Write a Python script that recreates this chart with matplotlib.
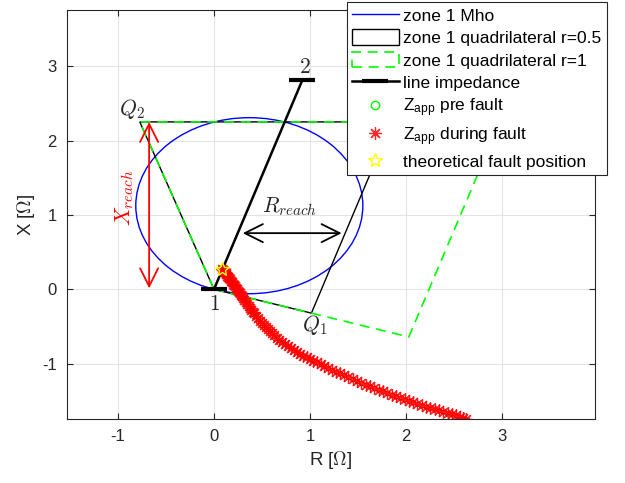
import matplotlib
matplotlib.use("Agg")
import matplotlib.pyplot as plt
from matplotlib.patches import Circle, Polygon
from matplotlib.lines import Line2D

plt.rcParams['font.family'] = ['Liberation Sans', 'DejaVu Sans']
plt.rcParams['mathtext.fontset'] = 'custom'
plt.rcParams['mathtext.rm'] = 'Liberation Sans'
plt.rcParams['mathtext.it'] = 'Liberation Sans:italic'
plt.rcParams['axes.unicode_minus'] = False

# line impedance (R, X) from relay 1 to bus 2
line_r = [0.0, 0.92]
line_x = [0.0, 2.81]

# zone 1 mho circle
mho_center = (0.368, 1.124)
mho_radius = 1.183

# zone 1 quadrilaterals (origin, Q1, top right, Q2)
quad05_r = [0.0, 1.015, 1.856, -0.773]
quad05_x = [0.0, -0.32, 2.25, 2.25]
quad1_r = [0.0, 2.03, 2.98, -0.773]
quad1_x = [0.0, -0.64, 2.25, 2.25]

# apparent impedance
pre_r = [0.087]
pre_x = [0.27]
fault_r = [0.087, 0.095, 0.10, 0.11, 0.12, 0.13, 0.14, 0.15, 0.16, 0.17, 0.18, 0.19,
           0.20, 0.21, 0.22, 0.23, 0.24, 0.25, 0.26, 0.27, 0.28, 0.29, 0.30, 0.315,
           0.33, 0.345, 0.36, 0.375, 0.39, 0.405, 0.42, 0.44, 0.46, 0.48, 0.50, 0.52,
           0.54, 0.56, 0.58, 0.605, 0.63, 0.655, 0.68, 0.71, 0.74, 0.77, 0.80, 0.83,
           0.86, 0.895, 0.93, 0.965, 1.00, 1.035, 1.07, 1.11, 1.15, 1.19, 1.23, 1.27,
           1.31, 1.355, 1.40, 1.445, 1.49, 1.535, 1.58, 1.625, 1.67, 1.715, 1.76, 1.805,
           1.85, 1.895, 1.94, 1.985, 2.03, 2.075, 2.12, 2.165, 2.21, 2.255, 2.30, 2.345,
           2.39, 2.435, 2.48, 2.52, 2.56, 2.595, 2.63]
fault_x = [0.27, 0.258, 0.25, 0.235, 0.22, 0.203, 0.185, 0.168, 0.15, 0.133, 0.115, 0.097,
           0.078, 0.059, 0.04, 0.021, 0.002, -0.017, -0.036, -0.055, -0.074, -0.093, -0.112, -0.14,
           -0.168, -0.195, -0.222, -0.249, -0.275, -0.30, -0.325, -0.358, -0.39, -0.42, -0.45, -0.48,
           -0.51, -0.535, -0.56, -0.59, -0.62, -0.648, -0.675, -0.705, -0.735, -0.763, -0.79, -0.815,
           -0.84, -0.865, -0.89, -0.913, -0.935, -0.958, -0.98, -1.005, -1.03, -1.055, -1.08, -1.105,
           -1.13, -1.155, -1.18, -1.205, -1.23, -1.255, -1.28, -1.303, -1.325, -1.348, -1.37, -1.393,
           -1.415, -1.438, -1.46, -1.48, -1.50, -1.52, -1.54, -1.558, -1.575, -1.593, -1.61, -1.628,
           -1.645, -1.663, -1.68, -1.695, -1.71, -1.725, -1.74]
theo_r = [0.087]
theo_x = [0.27]

fig = plt.figure(figsize=(6.25, 4.83), dpi=100)
ax = fig.add_axes([0.1067, 0.1325, 0.8453, 0.8468])

mho = Circle(mho_center, mho_radius, fill=False, edgecolor='blue', lw=1.0)
ax.add_patch(mho)

q05 = Polygon(list(zip(quad05_r, quad05_x)), closed=True, fill=False,
              edgecolor='black', lw=1.0, label='zone 1 quadrilateral r=0.5')
ax.add_patch(q05)
q1 = Polygon(list(zip(quad1_r, quad1_x)), closed=True, fill=False,
             edgecolor='#00ff00', lw=1.2, linestyle=(0, (6, 4)),
             label='zone 1 quadrilateral r=1')
ax.add_patch(q1)

h_line, = ax.plot(line_r, line_x, color='black', lw=1.8, marker='_',
                  markersize=19, markeredgewidth=3)
h_pre, = ax.plot(pre_r, pre_x, 'o', color='#00ff00', mfc='none', markersize=6)
h_fault, = ax.plot(fault_r, fault_x, linestyle='none', marker=(8, 2, 0),
                   color='red', markersize=9, markeredgewidth=0.9, alpha=0.85)
h_theo, = ax.plot(theo_r, theo_x, linestyle='none', marker='*', mfc='none',
                  mec='#ffff00', markersize=10, markeredgewidth=1.0)

# annotations
ax.annotate('', xy=(1.33, 0.755), xytext=(0.30, 0.755),
            arrowprops=dict(arrowstyle='<->,head_length=1.3,head_width=0.65',
                            color='black', lw=1.3, shrinkA=0, shrinkB=0,
                            mutation_scale=10))
ax.text(0.79, 1.11, r'$R_{reach}$', fontsize=15.5, math_fontfamily='cm',
        ha='center', va='center', color='#262626')
ax.annotate('', xy=(-0.676, 2.25), xytext=(-0.676, 0.013),
            arrowprops=dict(arrowstyle='<->,head_length=1.3,head_width=0.65',
                            color='red', lw=1.3, shrinkA=0, shrinkB=0,
                            mutation_scale=10))
ax.text(-0.93, 1.23, r'$X_{reach}$', fontsize=15.5, math_fontfamily='cm',
        color='red', rotation=90, ha='center', va='center')
ax.text(-0.853, 2.43, r'$Q_2$', fontsize=15.5, math_fontfamily='cm',
        ha='center', va='center', color='#262626')
ax.text(1.05, -0.48, r'$Q_1$', fontsize=15.5, math_fontfamily='cm',
        ha='center', va='center', color='#262626')
ax.text(0.0, -0.21, r'$1$', fontsize=15.5, math_fontfamily='cm',
        ha='center', va='center', color='#262626')
ax.text(0.95, 2.98, r'$2$', fontsize=15.5, math_fontfamily='cm',
        ha='center', va='center', color='#262626')

ax.set_xlim(-1.535, 3.97)
ax.set_ylim(-1.743, 3.754)
ax.set_xticks([-1, 0, 1, 2, 3])
ax.set_yticks([-1, 0, 1, 2, 3])
ax.grid(True, color='#e3e3e3', lw=0.8)
ax.set_axisbelow(True)
ax.tick_params(direction='in', length=4, width=0.8, top=True, right=True,
               labelsize=12, colors='#262626', pad=7)
for s in ax.spines.values():
    s.set_color('#262626')
    s.set_linewidth(0.8)
ax.set_xlabel(r'R [$\Omega$]', fontsize=13.5, math_fontfamily='cm',
              color='#262626', labelpad=4)
ax.set_ylabel(r'X [$\Omega$]', fontsize=13.5, math_fontfamily='cm',
              color='#262626', labelpad=4)

h_mho = Line2D([], [], color='blue', lw=1.0)
handles = [h_mho, q05, q1, h_line, h_pre, h_fault, h_theo]
labels = ['zone 1 Mho', 'zone 1 quadrilateral r=0.5', 'zone 1 quadrilateral r=1',
          'line impedance', r'Z$_{\mathrm{app}}$ pre fault',
          r'Z$_{\mathrm{app}}$ during fault', 'theoretical fault position']
leg = ax.legend(handles, labels, loc='upper left', bbox_to_anchor=(0.5547, 0.9965),
                bbox_transform=fig.transFigure, borderaxespad=0, fontsize=12.5,
                handlelength=2.7, handleheight=1.0, handletextpad=0.25,
                labelspacing=0.33, borderpad=0.3, fancybox=False, framealpha=1,
                edgecolor='#262626')
leg.get_frame().set_linewidth(0.8)
for t in leg.get_texts():
    t.set_color('black')

fig.savefig('out.png', dpi=100)
